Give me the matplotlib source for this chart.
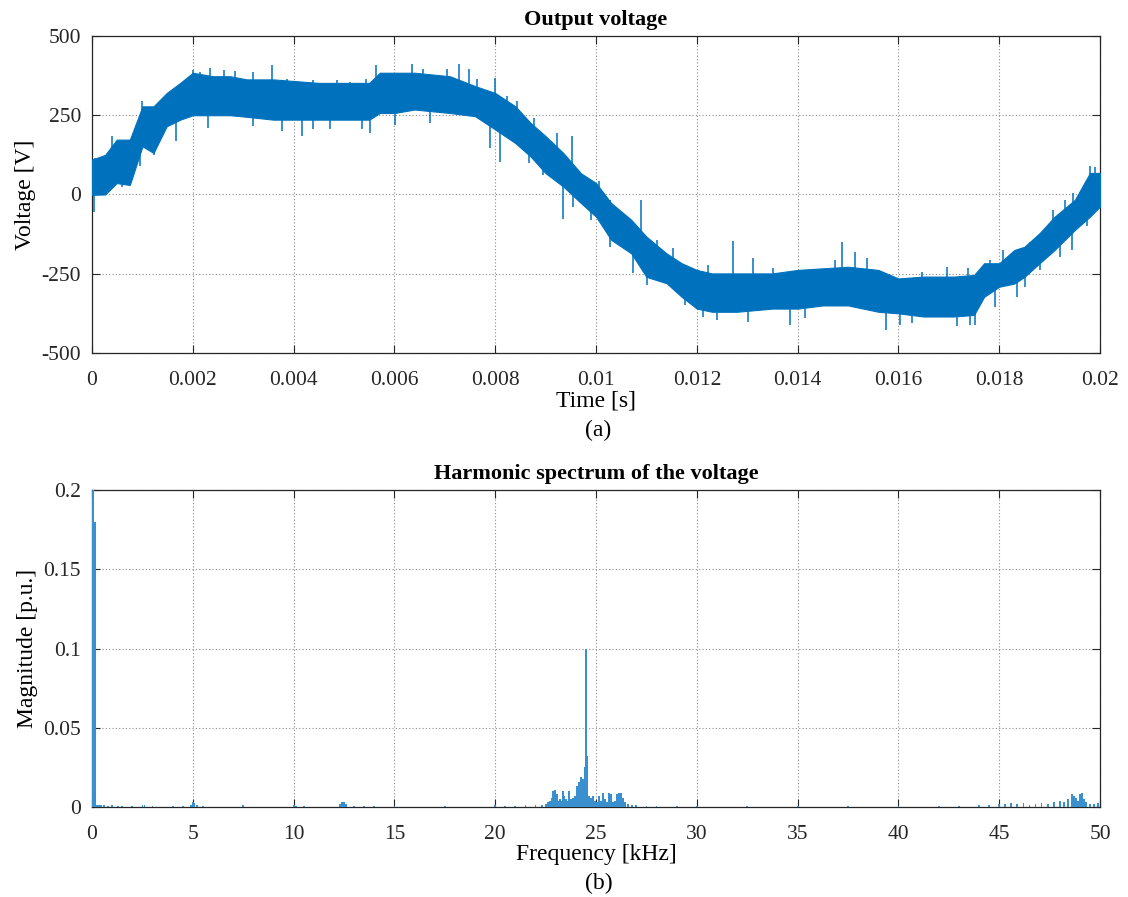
import numpy as np
import matplotlib
matplotlib.use("Agg")
import matplotlib.pyplot as plt

plt.rcParams["font.family"] = ["Liberation Serif", "DejaVu Serif"]
plt.rcParams["axes.unicode_minus"] = False

LINE_BLUE = "#0072BD"

# ---- Output voltage: band of the switched waveform (envelope of the PWM ripple) ----
t_env = [0.0, 0.00026, 0.00049, 0.00075, 0.001, 0.00122, 0.00148, 0.00175, 0.002,
         0.0024, 0.00274, 0.00307, 0.0036, 0.004, 0.0045, 0.0051, 0.0055, 0.00571,
         0.006, 0.0064, 0.0071, 0.0076, 0.008, 0.0084, 0.0087, 0.009, 0.00935,
         0.0097, 0.01, 0.0103, 0.0107, 0.011, 0.0114, 0.0117, 0.012, 0.0123,
         0.0128, 0.0135, 0.014, 0.0145, 0.015, 0.0156, 0.016, 0.0165, 0.0171,
         0.0175, 0.0177, 0.018, 0.0183, 0.0185, 0.0188, 0.0191, 0.0195, 0.0198, 0.02]
v_upper = [110, 125, 173, 173, 278, 278, 320, 352, 384,
           373, 373, 363, 363, 358, 352, 352, 352, 384,
           384, 384, 373, 342, 320, 278, 226, 184, 131,
           67, 36, -27, -80, -133, -186, -217, -238, -249,
           -249, -249, -238, -233, -228, -238, -265, -259, -259,
           -254, -217, -217, -175, -165, -122, -70, -17, 68, 68]
v_lower = [-1, 0, 36, 30, 152, 131, 215, 236, 250,
           250, 250, 245, 236, 236, 236, 236, 236, 257,
           257, 268, 257, 247, 205, 162, 120, 67, 25,
           -27, -70, -143, -186, -260, -280, -323, -360, -370,
           -370, -360, -360, -350, -350, -370, -375, -385, -385,
           -380, -323, -291, -281, -260, -217, -175, -112, -70, -38]

# switching spikes above the band (time [s], peak voltage [V])
spike_up_t = [0.00006, 0.00039, 0.00075, 0.00099, 0.00108, 0.00135, 0.00158, 0.00175,
              0.00201, 0.00214, 0.00234, 0.00261, 0.00284, 0.0032, 0.00357, 0.00386,
              0.00439, 0.00486, 0.00512, 0.00544, 0.00563,
              0.00634, 0.00657, 0.00704, 0.00728, 0.00747, 0.00763, 0.008, 0.00823,
              0.00843, 0.00876, 0.00922, 0.00952, 0.01005, 0.01028, 0.01089, 0.0112,
              0.01153, 0.01223, 0.01272,
              0.01312, 0.01352, 0.01474, 0.01489, 0.01514, 0.01537, 0.01646, 0.01696,
              0.01739, 0.01782, 0.01808, 0.01861, 0.01907, 0.01931, 0.01947, 0.0198,
              0.0199]
spike_up_v = [115, 184, 173, 294, 275, 275, 326, 331,
              394, 385, 400, 394, 390, 385, 407, 365,
              360, 360, 355, 365, 407,
              412, 395, 395, 410, 395, 363, 368, 310,
              294, 242, 194, 184, 41, -17, -17, -143,
              -170, -223, -146,
              -201, -233, -207, -150, -180, -200, -244, -230,
              -233, -207, -175, -149, -49, -17, 4, 91,
              88]

# switching spikes below the band (time [s], trough voltage [V])
spike_dn_t = [0.00003, 0.00019, 0.00059, 0.00095, 0.00122, 0.00166, 0.00231, 0.0032,
              0.00376, 0.00416, 0.00439, 0.00472, 0.00535, 0.00552,
              0.00601, 0.00671, 0.0079, 0.0081, 0.00866, 0.00895, 0.00935, 0.00955,
              0.00991, 0.01028, 0.01074, 0.01101, 0.01177, 0.01213, 0.0124,
              0.01302, 0.01384, 0.01415, 0.01554, 0.01575, 0.01603, 0.01626, 0.01716,
              0.01742, 0.01752, 0.01792, 0.01835, 0.01851, 0.01881, 0.01921, 0.01944,
              0.01974]
spike_dn_v = [-54, -1, 25, 89, 126, 168, 210, 215,
              200, 184, 205, 205, 205, 195,
              220, 225, 147, 104, 99, 62, -78, -40,
              -80, -165, -249, -286, -349, -386, -397,
              -402, -412, -391, -365, -428, -412, -407, -416,
              -412, -412, -354, -323, -291, -238, -196, -175,
              -101]

# ---- Harmonic spectrum (frequency [kHz], magnitude [p.u.]) ----
spec_freq = [0.05, 0.15, 0.25, 0.35, 0.45, 0.6, 0.8, 1.0, 1.3, 1.5, 2.0, 2.5, 2.6,
             3.0, 4.0, 4.5, 4.9, 5.0, 5.05, 5.2, 5.5, 7.5, 10.0, 10.1, 10.5,
             12.3, 12.4, 12.5, 12.6, 13.0, 13.5, 14.0, 15.0, 17.5, 20.0, 20.5,
             21.0, 21.5, 22.0, 22.3, 22.5,
             22.6, 22.7, 22.8, 22.85, 22.95, 23.05, 23.1, 23.2, 23.3, 23.35, 23.4,
             23.5, 23.6, 23.65, 23.75, 23.85, 23.95, 24.05, 24.15, 24.25, 24.35,
             24.45, 24.5, 24.55, 24.65, 24.75, 24.85, 24.95, 25.05, 25.15, 25.25,
             25.35, 25.45, 25.55, 25.65, 25.75, 25.85, 25.95, 26.05, 26.15, 26.25,
             26.35, 26.45, 26.6, 26.8, 27.0, 27.5, 28.0, 29.0, 30.0, 32.5, 35.0,
             37.5, 40.0, 42.0, 43.0, 44.0, 44.5, 45.0, 45.3, 45.6, 45.9, 46.2,
             46.5, 46.8, 47.1, 47.4, 47.7, 48.0, 48.2, 48.4, 48.6, 48.7, 48.8,
             48.9, 49.0, 49.1, 49.2, 49.3, 49.5, 49.7, 49.9]
spec_mag = [1.0, 0.18, 0.0015, 0.001, 0.0012, 0.001, 0.0008, 0.001, 0.0006, 0.0008,
            0.0008, 0.0015, 0.0012, 0.0006, 0.0005, 0.0006, 0.0012, 0.003, 0.0025,
            0.001, 0.0006, 0.0012, 0.0012, 0.0008, 0.0006, 0.002, 0.003, 0.003,
            0.002, 0.0008, 0.0008, 0.0006, 0.0008, 0.0006, 0.0012, 0.0008, 0.0008,
            0.001, 0.0012, 0.0015, 0.002,
            0.003, 0.004, 0.006, 0.010, 0.011, 0.008, 0.004, 0.005, 0.004, 0.010,
            0.007, 0.005, 0.004, 0.010, 0.005, 0.006, 0.007, 0.013, 0.016, 0.019,
            0.018, 0.025, 0.100, 0.032, 0.007, 0.006, 0.007, 0.004, 0.003, 0.007,
            0.004, 0.009, 0.005, 0.003, 0.009, 0.008, 0.003, 0.004, 0.008, 0.009,
            0.009, 0.006, 0.003, 0.002, 0.0015, 0.001, 0.0008, 0.0006, 0.0005,
            0.0006, 0.0005, 0.0005, 0.0008, 0.0006, 0.0006, 0.0008, 0.001, 0.0015,
            0.002, 0.002, 0.0025, 0.002, 0.0025, 0.0015, 0.002, 0.0025, 0.002,
            0.003, 0.0035, 0.003, 0.005, 0.008, 0.007, 0.006, 0.004, 0.008, 0.009,
            0.005, 0.003, 0.002, 0.002, 0.0025]

time_ticks = [0, 0.002, 0.004, 0.006, 0.008, 0.01, 0.012, 0.014, 0.016, 0.018, 0.02]
time_labels = ["0", "0.002", "0.004", "0.006", "0.008", "0.01", "0.012", "0.014",
               "0.016", "0.018", "0.02"]
volt_ticks = [-500, -250, 0, 250, 500]
freq_ticks = [0, 5, 10, 15, 20, 25, 30, 35, 40, 45, 50]
mag_ticks = [0, 0.05, 0.1, 0.15, 0.2]
mag_labels = ["0", "0.05", "0.1", "0.15", "0.2"]

fig = plt.figure(figsize=(11.28, 8.97), dpi=100)
ax1 = fig.add_axes([0.0816, 0.6065, 0.8936, 0.3534])
ax2 = fig.add_axes([0.0816, 0.1003, 0.8936, 0.3534])


def style(ax):
    ax.grid(True, linestyle=(0, (1, 2)), color="#7f7f7f", linewidth=0.8, alpha=0.9)
    ax.set_axisbelow(True)
    ax.tick_params(direction="in", top=True, right=True, length=6, width=0.8,
                   labelsize=15.5, colors="#262626")
    ax.tick_params(axis="x", pad=13)
    ax.tick_params(axis="y", pad=8)
    for s in ax.spines.values():
        s.set_linewidth(0.9)
        s.set_color("#262626")


# top: output voltage
ax1.fill_between(t_env, v_lower, v_upper, color=LINE_BLUE, linewidth=0.8,
                 edgecolor=LINE_BLUE, zorder=3)
mid = (np.array(v_upper) + np.array(v_lower)) / 2.0
ax1.vlines(spike_up_t, np.interp(spike_up_t, t_env, mid), spike_up_v,
           color=LINE_BLUE, linewidth=1.1, zorder=3)
ax1.vlines(spike_dn_t, np.interp(spike_dn_t, t_env, mid), spike_dn_v,
           color=LINE_BLUE, linewidth=1.1, zorder=3)
ax1.set_xlim(0, 0.02)
ax1.set_ylim(-500, 500)
ax1.set_xticks(time_ticks)
ax1.set_xticklabels(time_labels)
ax1.set_yticks(volt_ticks)
style(ax1)
ax1.set_title("Output voltage", fontsize=16, fontweight="bold", pad=8)
ax1.set_ylabel("Voltage [V]", fontsize=17, labelpad=4)
ax1.set_xlabel("Time [s]", fontsize=17, labelpad=0)
fig.text(0.5305, 1 - 430 / 897, "(a)", ha="center", va="center", fontsize=17)

# bottom: harmonic spectrum
ax2.bar(spec_freq, spec_mag, width=0.09, color="#3a8fcf", linewidth=0, zorder=3)
ax2.set_xlim(0, 50)
ax2.set_ylim(0, 0.2)
ax2.set_xticks(freq_ticks)
ax2.set_yticks(mag_ticks)
ax2.set_yticklabels(mag_labels)
style(ax2)
ax2.set_title("Harmonic spectrum of the voltage", fontsize=16, fontweight="bold", pad=8)
ax2.set_ylabel("Magnitude [p.u.]", fontsize=17, labelpad=4)
ax2.set_xlabel("Frequency [kHz]", fontsize=17, labelpad=0)
fig.text(0.5305, 1 - 883 / 897, "(b)", ha="center", va="center", fontsize=17)

fig.savefig("out.png", dpi=100)
